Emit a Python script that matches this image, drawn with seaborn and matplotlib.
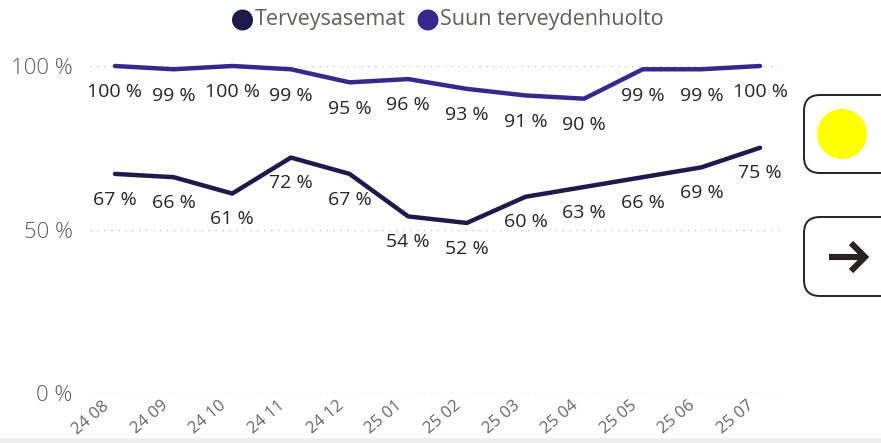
import matplotlib
matplotlib.use("Agg")
import matplotlib.pyplot as plt
import matplotlib.transforms as mtransforms
import seaborn as sns
import pandas as pd
from matplotlib.patches import FancyBboxPatch, Circle
from matplotlib.lines import Line2D

months = ["24 08", "24 09", "24 10", "24 11", "24 12", "25 01",
          "25 02", "25 03", "25 04", "25 05", "25 06", "25 07"]
terveysasemat = [67, 66, 61, 72, 67, 54, 52, 60, 63, 66, 69, 75]
suun = [100, 99, 100, 99, 95, 96, 93, 91, 90, 99, 99, 100]
series_names = ["Terveysasemat", "Suun terveydenhuolto"]
colors = ["#1e1a4b", "#352a8c"]

sns.set_theme(style="white")
plt.rcParams["font.family"] = ["Open Sans", "DejaVu Sans"]

df = pd.DataFrame({
    "x": list(range(len(months))) * 2,
    "value": terveysasemat + suun,
    "series": [series_names[0]] * len(months) + [series_names[1]] * len(months),
})

W, H = 881, 443
fig = plt.figure(figsize=(W / 100, H / 100), dpi=100)
ax_left, ax_right = 90 / W, 785 / W
ax_top, ax_bot = 1 - 66 / H, 1 - 393 / H
ax = fig.add_axes([ax_left, ax_bot, ax_right - ax_left, ax_top - ax_bot])

sns.lineplot(data=df, x="x", y="value", hue="series", palette=colors,
             linewidth=3.2, ax=ax, legend=False)
for line in ax.lines:
    line.set_clip_on(False)
    line.set_solid_capstyle("round")
    line.set_solid_joinstyle("round")

ax.set_xlim(-0.426, 11.426)
ax.set_ylim(0, 100)
ax.set_yticks([0, 50, 100])
ax.set_yticklabels(["0 %", "50 %", "100 %"], color="#5a5a5a", fontsize=16,
                   fontweight="light")
ax.set_xticks(range(len(months)))
ax.set_xticklabels(months, rotation=40, ha="right", va="top",
                   rotation_mode="anchor", color="#666666", fontsize=12)
ax.tick_params(axis="x", pad=3.5, length=0)
ax.tick_params(axis="y", pad=12.5, length=0)
shift = mtransforms.ScaledTranslation(-13 / 100, 0, fig.dpi_scale_trans)
for lbl in ax.get_xticklabels():
    lbl.set_transform(lbl.get_transform() + shift)
for s in ax.spines.values():
    s.set_visible(False)
ax.set_xlabel("")
ax.set_ylabel("")
for yv in [0, 50, 100]:
    ax.axhline(yv, color="#c8c8c8", linestyle=(0, (1, 4)), linewidth=1, zorder=0)

# data labels
for i, v in enumerate(suun):
    ax.annotate(f"{v} %", (i, v), xytext=(0, -19), textcoords="offset points",
                ha="center", va="center", fontsize=14, color="#252423")
for i, v in enumerate(terveysasemat):
    ax.annotate(f"{v} %", (i, v), xytext=(0, -18.5), textcoords="offset points",
                ha="center", va="center", fontsize=14, color="#252423")

# legend
legend_items = [(242.5, series_names[0], colors[0]), (428, series_names[1], colors[1])]
for px, name, c in legend_items:
    fig.patches.append(Circle((px, H - 20), 10.5, transform=None,
                              facecolor=c, edgecolor="none"))
    fig.text((px + 12) / W, 1 - 20 / H, name, ha="left", va="center",
             fontsize=15.5, color="#605e5c")

# right-side buttons
for (y0, y1) in [(95, 173), (217, 296)]:
    fig.patches.append(FancyBboxPatch((804, H - y1), 100, y1 - y0,
                                      boxstyle="round,pad=0,rounding_size=16",
                                      transform=None, facecolor="white",
                                      edgecolor="#222222", linewidth=1.4))
fig.patches.append(Circle((842, H - 134), 25, transform=None,
                          facecolor="#ffff00", edgecolor="none"))
arrow_kw = dict(transform=None, color="#252423", linewidth=4.4,
                solid_capstyle="butt", solid_joinstyle="miter")
fig.lines.append(Line2D([829, 863], [H - 257, H - 257], **arrow_kw))
fig.lines.append(Line2D([851, 865, 851], [H - 243, H - 257, H - 271], **arrow_kw))

# bottom strip
fig.patches.append(plt.Rectangle((0, 0), W, 5, transform=None,
                                 facecolor="#eeeeee", edgecolor="none"))

fig.savefig("out.png", dpi=100)
